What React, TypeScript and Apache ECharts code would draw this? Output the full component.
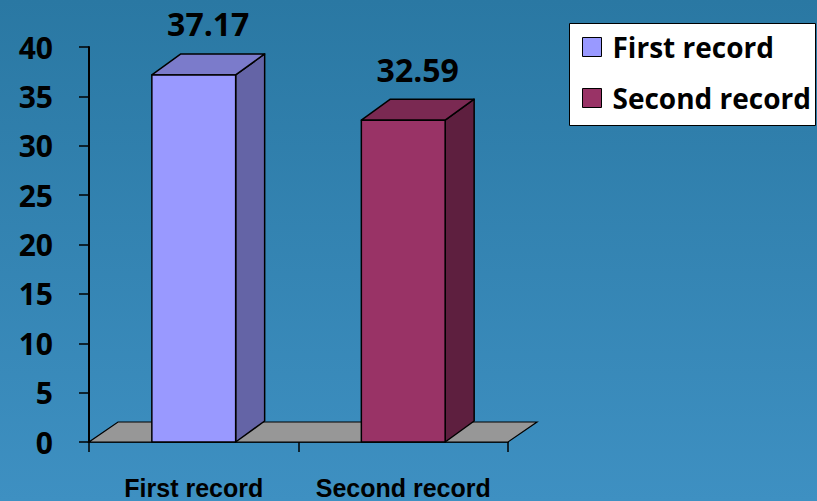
import React, { useEffect, useRef } from "react";
import * as echarts from "echarts";

const categories = ["First record", "Second record"];
const seriesNames = ["First record", "Second record"];
const values = [37.17, 32.59];
const yMin = 0;
const yMax = 40;
const yInterval = 5;

const frontColors = ["#9999FF", "#993366"];
const topColors = ["#7B7BCB", "#7A2952"];
const sideColors = ["#6464A6", "#5E1F3F"];

const DX = 29;
const DY = -21;
const FDY = -20;

export default function App() {
  const ref = useRef<HTMLDivElement>(null);

  useEffect(() => {
    if (!ref.current) return;
    const chart = echarts.init(ref.current, undefined, { renderer: "svg" });

    const makeBar = (i: number) => (params: any, api: any) => {
      const cat = api.value(0);
      const v = api.value(1);
      const top = api.coord([cat, v]);
      const base = api.coord([cat, 0]);
      const band = api.size([1, 0])[0];
      const w = band * 0.4;
      const x0 = top[0] - w / 2;
      const x1 = top[0] + w / 2;
      const yT = top[1];
      const yB = base[1];
      const stroke = { stroke: "#000", lineWidth: 1.5, lineJoin: "round" };
      return {
        type: "group",
        children: [
          {
            type: "polygon",
            shape: { points: [[x1, yT], [x1 + DX, yT + DY], [x1 + DX, yB + DY], [x1, yB]] },
            style: { fill: sideColors[i], ...stroke },
          },
          {
            type: "polygon",
            shape: { points: [[x0, yT], [x1, yT], [x1 + DX, yT + DY], [x0 + DX, yT + DY]] },
            style: { fill: topColors[i], ...stroke },
          },
          {
            type: "rect",
            shape: { x: x0, y: yT, width: w, height: yB - yT },
            style: { fill: frontColors[i], ...stroke },
          },
          {
            type: "text",
            x: top[0] + DX / 2,
            y: yT + DY - 30,
            style: {
              text: v.toFixed(2),
              fill: "#000",
              fontSize: 32,
              fontWeight: "bold",
              fontFamily: "Open Sans",
              align: "center",
              verticalAlign: "middle",
            },
          },
        ],
      };
    };

    const renderFloor = (params: any, api: any) => {
      const cs = params.coordSys;
      const x = cs.x;
      const yb = cs.y + cs.height;
      const w = cs.width;
      return {
        type: "polygon",
        shape: { points: [[x, yb], [x + w, yb], [x + w + DX, yb + FDY], [x + DX, yb + FDY]] },
        style: { fill: "#979797", stroke: "#000", lineWidth: 1.2 },
      };
    };

    const option: any = {
      animation: false,
      backgroundColor: new echarts.graphic.LinearGradient(0, 0, 0, 1, [
        { offset: 0, color: "#2A78A3" },
        { offset: 1, color: "#3E90C2" },
      ]),
      grid: { left: 89, right: 309, top: 47, bottom: 59 },
      graphic: [
        {
          type: "rect",
          z: 1,
          shape: { x: 569.5, y: 23.5, width: 246, height: 102 },
          style: { fill: "#fff", stroke: "#000", lineWidth: 1 },
        },
      ],
      legend: {
        z: 10,
        orient: "vertical",
        left: 582,
        top: 32,
        padding: 0,
        itemGap: 21,
        itemWidth: 19,
        itemHeight: 19,
        icon: "rect",
        selectedMode: false,
        textStyle: {
          color: "#000",
          fontSize: 28,
          fontWeight: "bold",
          fontFamily: "Open Sans",
          lineHeight: 30,
          padding: [0, 0, 0, 6],
        },
        data: seriesNames.map((n) => ({
          name: n,
          itemStyle: { borderColor: "#000", borderWidth: 1 },
        })),
      },
      xAxis: {
        type: "category",
        data: categories,
        offset: 2,
        axisLine: { lineStyle: { color: "#000", width: 1.5 } },
        axisTick: { show: true, interval: 0, length: 10, lineStyle: { color: "#000", width: 1.5 } },
        axisLabel: {
          interval: 0,
          margin: 31,
          color: "#000",
          fontSize: 25,
          fontWeight: "bold",
          fontFamily: "Liberation Sans",
        },
        splitLine: { show: false },
      },
      yAxis: {
        type: "value",
        min: yMin,
        max: yMax,
        interval: yInterval,
        axisLine: { show: true, lineStyle: { color: "#000", width: 2 } },
        axisTick: { show: true, length: 10, lineStyle: { color: "#000", width: 1.5 } },
        axisLabel: {
          margin: 36,
          color: "#000",
          fontSize: 30,
          fontWeight: "bold",
          fontFamily: "Open Sans",
        },
        splitLine: { show: false },
      },
      series: [
        {
          name: "floor",
          type: "custom",
          z: 1,
          renderItem: renderFloor,
          data: [[0, 0]],
          silent: true,
        },
        ...seriesNames.map((n, i) => ({
          name: n,
          type: "custom",
          z: 3,
          itemStyle: { color: frontColors[i] },
          renderItem: makeBar(i),
          data: [[i, values[i]]],
        })),
      ],
    };

    chart.setOption(option);
    return () => chart.dispose();
  }, []);

  return (
    <div
      ref={ref}
      style={{ position: "fixed", left: 0, top: 0, width: 817, height: 501 }}
    />
  );
}
